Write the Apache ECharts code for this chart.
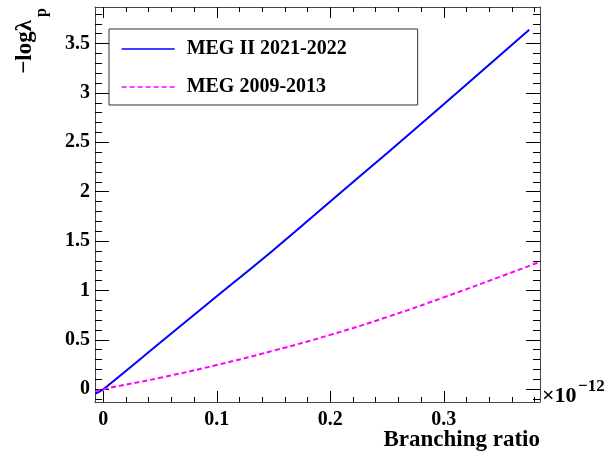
<!DOCTYPE html>
<html>
<head>
<meta charset="utf-8">
<script src="https://cdn.jsdelivr.net/npm/echarts@6/dist/echarts.min.js"></script>
<style>html,body{margin:0;padding:0;background:#fff;}#c{width:616px;height:456px;}</style>
</head>
<body>
<div id="c"></div>
<script>
// ---- data ----
var seriesNames = ['MEG II 2021-2022', 'MEG 2009-2013'];
var megIIx = [-0.007, 0, 0.05, 0.10, 0.15, 0.20, 0.25, 0.30, 0.3753];
var megIIy = [-0.045, 0, 0.47, 0.94, 1.41, 1.90, 2.39, 2.885, 3.64];
var megx = [-0.007, 0, 0.05, 0.10, 0.15, 0.20, 0.25, 0.30, 0.35, 0.3848];
var megy = [-0.02, 0, 0.115, 0.245, 0.39, 0.55, 0.73, 0.93, 1.14, 1.29];
var xTicks = [0, 0.1, 0.2, 0.3];
var yTicks = [0, 0.5, 1, 1.5, 2, 2.5, 3, 3.5];
var xMin = -0.0073, xMax = 0.3848, yMin = -0.13, yMax = 3.87;

function pairs(xs, ys) { return xs.map(function (x, i) { return [x, ys[i]]; }); }
function minorVals(lo, hi, step, majors) {
  var out = [];
  for (var k = Math.ceil(lo / step - 1e-9); k * step <= hi + 1e-9; k++) {
    var v = +(k * step).toFixed(6);
    if (majors.indexOf(v) < 0) out.push(v);
  }
  return out;
}
var xMinor = minorVals(xMin, xMax, 0.02, xTicks);
var yMinor = minorVals(yMin, yMax, 0.1, yTicks);

var FONT = '"Liberation Serif", "Times New Roman", serif';
var frameColor = '#444';

function xAx(pos, vals, len, showLine, showLabel) {
  return {
    type: 'value', position: pos, min: xMin, max: xMax,
    axisLine: { show: showLine, onZero: false, lineStyle: { color: frameColor, width: 1 } },
    axisTick: { show: true, inside: true, length: len, customValues: vals, lineStyle: { color: '#000', width: 1 } },
    axisLabel: { show: showLabel, customValues: vals, margin: 8, fontFamily: FONT, fontWeight: 'bold', fontSize: 20, color: '#000',
      formatter: function (v) { return String(+v.toFixed(3)); } },
    splitLine: { show: false }
  };
}
function yAx(pos, vals, len, showLine, showLabel) {
  return {
    type: 'value', position: pos, min: yMin, max: yMax,
    axisLine: { show: showLine, onZero: false, lineStyle: { color: frameColor, width: 1 } },
    axisTick: { show: true, inside: true, length: len, customValues: vals, lineStyle: { color: '#000', width: 1 } },
    axisLabel: { show: showLabel, customValues: vals, margin: 5, fontFamily: FONT, fontWeight: 'bold', fontSize: 20, color: '#000',
      formatter: function (v) { return String(+v.toFixed(3)); } },
    splitLine: { show: false }
  };
}

var chart = echarts.init(document.getElementById('c'), null, { renderer: 'canvas' });
chart.setOption({
  animation: false,
  backgroundColor: '#fff',
  grid: { left: 95, right: 76, top: 7, bottom: 54, containLabel: false },
  xAxis: [
    xAx('bottom', xTicks, 11, true, true),
    xAx('bottom', xMinor, 5, false, false),
    xAx('top', xTicks, 11, true, false),
    xAx('top', xMinor, 5, false, false)
  ],
  yAxis: [
    yAx('left', yTicks, 14, true, true),
    yAx('left', yMinor, 7, false, false),
    yAx('right', yTicks, 14, true, false),
    yAx('right', yMinor, 7, false, false)
  ],
  legend: {
    orient: 'vertical', left: 109, top: 29,
    padding: [10, 71, 8, 12],
    itemWidth: 53, itemHeight: 14, itemGap: 18,
    backgroundColor: '#fff', borderColor: '#333', borderWidth: 1,
    itemStyle: { opacity: 0 },
    lineStyle: { width: 1.3 },
    textStyle: { fontFamily: FONT, fontWeight: 'bold', fontSize: 20, color: '#000', padding: [0, 0, 0, 7] },
    data: seriesNames
  },
  series: [
    { name: seriesNames[0], type: 'line', xAxisIndex: 0, yAxisIndex: 0, symbol: 'none', smooth: 0.3,
      lineStyle: { color: '#0000ff', width: 2 }, itemStyle: { color: '#0000ff' },
      data: pairs(megIIx, megIIy) },
    { name: seriesNames[1], type: 'line', xAxisIndex: 0, yAxisIndex: 0, symbol: 'none', smooth: true,
      lineStyle: { color: '#ff00ff', width: 2, type: [5, 3] }, itemStyle: { color: '#ff00ff' },
      data: pairs(megx, megy) }
  ],
  graphic: [
    { type: 'text', x: 540, y: 452, style: { text: 'Branching ratio', font: 'bold 23px ' + FONT, fill: '#000', align: 'right', verticalAlign: 'bottom' } },
    { type: 'text', x: 542, y: 396, style: { text: '\u00d710', font: 'bold 22px ' + FONT, fill: '#000', align: 'left', verticalAlign: 'middle' } },
    { type: 'text', x: 578, y: 387, style: { text: '\u221212', font: 'bold 17px ' + FONT, fill: '#000', align: 'left', verticalAlign: 'middle' } },
    { type: 'text', x: 25, y: 20, rotation: Math.PI / 2, style: { text: '\u2212log\u03bb', font: 'bold 23px ' + FONT, fill: '#000', align: 'right', verticalAlign: 'middle' } },
    { type: 'text', x: 42, y: 8, rotation: Math.PI / 2, style: { text: 'p', font: 'bold 16px ' + FONT, fill: '#000', align: 'right', verticalAlign: 'middle' } }
  ]
});
</script>
</body>
</html>
